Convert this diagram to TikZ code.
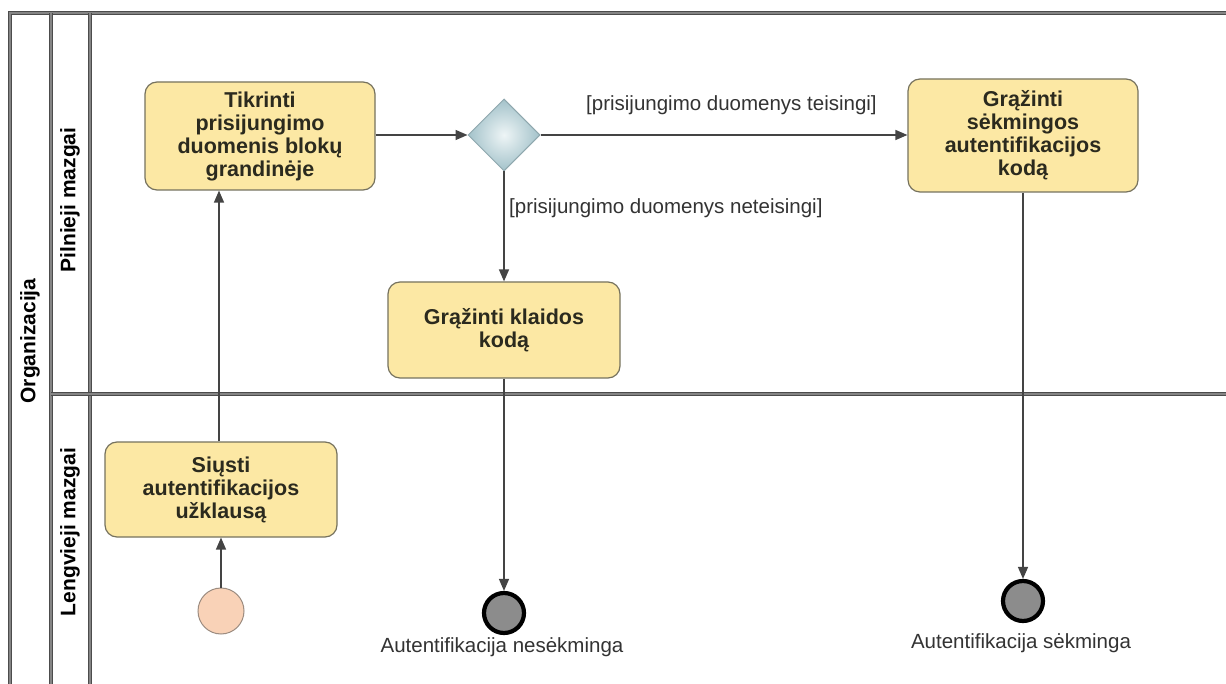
\documentclass[tikz,border=0pt]{standalone}
\usepackage{fontspec}
\setmainfont{Liberation Sans}
\usetikzlibrary{shapes.geometric,arrows.meta}

\definecolor{taskfill}{HTML}{FCE8A4}
\definecolor{taskdraw}{HTML}{76725E}
\definecolor{tasktext}{HTML}{2B2A1E}
\definecolor{gwdraw}{HTML}{8FA8AE}
\definecolor{gwouter}{HTML}{A3C2CA}
\definecolor{gwinner}{HTML}{EEF5F6}
\definecolor{startfill}{HTML}{F9D2B7}
\definecolor{startdraw}{HTML}{9C8C80}
\definecolor{endfill}{HTML}{8C8C8C}
\definecolor{flowcol}{HTML}{444444}
\definecolor{labelcol}{HTML}{333333}

\tikzset{
  poolrule/.style={draw=black!70, line width=1.5pt, double=black!48, double distance=1.5pt},
  task/.style={draw=taskdraw, fill=taskfill, line width=1.2pt, rounded corners=12pt,
    align=center, inner sep=0pt, text=tasktext,
    font=\fontsize{21.5}{23}\selectfont\bfseries},
  gateway/.style={diamond, draw=gwdraw, line width=1pt, shading=radial,
    inner color=gwinner, outer color=gwouter, minimum width=72pt, minimum height=72pt,
    inner sep=0pt},
  startev/.style={circle, draw=startdraw, fill=startfill, line width=1pt,
    minimum size=46pt, inner sep=0pt},
  endev/.style={circle, draw=black, fill=endfill, line width=4.2pt,
    minimum size=40pt, inner sep=0pt},
  flow/.style={draw=flowcol, line width=1.4pt, -{Triangle[length=12pt,width=10pt]}},
  guard/.style={text=labelcol, inner sep=0pt, font=\fontsize{20.5}{23}\selectfont},
  evlabel/.style={text=labelcol, inner sep=0pt, font=\fontsize{20.5}{23}\selectfont},
  lanelabel/.style={rotate=90, text=black, inner sep=0pt,
    font=\fontsize{21}{23}\selectfont\bfseries},
}

\begin{document}
\begin{tikzpicture}[x=1pt,y=-1pt]
\useasboundingbox (0,0) rectangle (1226,684);
\fill[white] (0,0) rectangle (1226,684);

% pool and lane frame
\coordinate (tl) at (10,13);
\coordinate (tr) at (1226,13);
\coordinate (bl) at (10,684);
\coordinate (pc) at (51,13);
\coordinate (pcb) at (51,684);
\coordinate (lc) at (90,13);
\coordinate (lcb) at (90,684);
\coordinate (dl) at (51,394);
\coordinate (dr) at (1226,394);
\draw[poolrule] (bl) -- (tl) -- (tr);
\draw[poolrule] (pc) -- (pcb);
\draw[poolrule] (lc) -- (lcb);
\draw[poolrule] (dl) -- (dr);

\node[lanelabel] (pool) at (30,341) {Organizacija};
\node[lanelabel] (lane1) at (70,200) {Pilnieji mazgai};
\node[lanelabel] (lane2) at (70,532) {Lengvieji mazgai};

% activities and events
\node[task, minimum width=230pt, minimum height=108pt] (check) at (260,136)
  {Tikrinti\\prisijungimo\\duomenis blokų\\grandinėje};
\node[gateway] (gw) at (504,135) {};
\node[task, minimum width=230pt, minimum height=113pt] (ok) at (1023,135.5)
  {Grąžinti\\sėkmingos\\autentifikacijos\\kodą};
\node[task, minimum width=232pt, minimum height=96pt] (err) at (504,330)
  {Grąžinti klaidos\\kodą};
\node[task, minimum width=232pt, minimum height=95pt] (send) at (221,489.5)
  {Siųsti\\autentifikacijos\\užklausą};
\node[startev] (start) at (221,611) {};
\node[endev] (fail) at (504,613) {};
\node[endev] (done) at (1023,601) {};

% sequence flows
\draw[flow] (start.north) -- (send.south);
\draw[flow] ([xshift=-2pt]send.north) -- ([xshift=-2pt]send.north |- check.south);
\draw[flow] (check.east |- gw.west) -- (gw.west);
\draw[flow] (gw.east) -- (gw.east -| ok.west);
\draw[flow] (gw.south) -- (err.north);
\draw[flow] (err.south) -- (fail.north);
\draw[flow] (ok.south) -- (done.north);

% guards and event labels
\node[guard, anchor=west] (gtrue) at (586,105) {[prisijungimo duomenys teisingi]};
\node[guard, anchor=west] (gfalse) at (509,208) {[prisijungimo duomenys neteisingi]};
\node[evlabel, anchor=base] (lfail) at (502,652) {Autentifikacija nesėkminga};
\node[evlabel, anchor=base] (ldone) at (1021,648) {Autentifikacija sėkminga};
\end{tikzpicture}
\end{document}
